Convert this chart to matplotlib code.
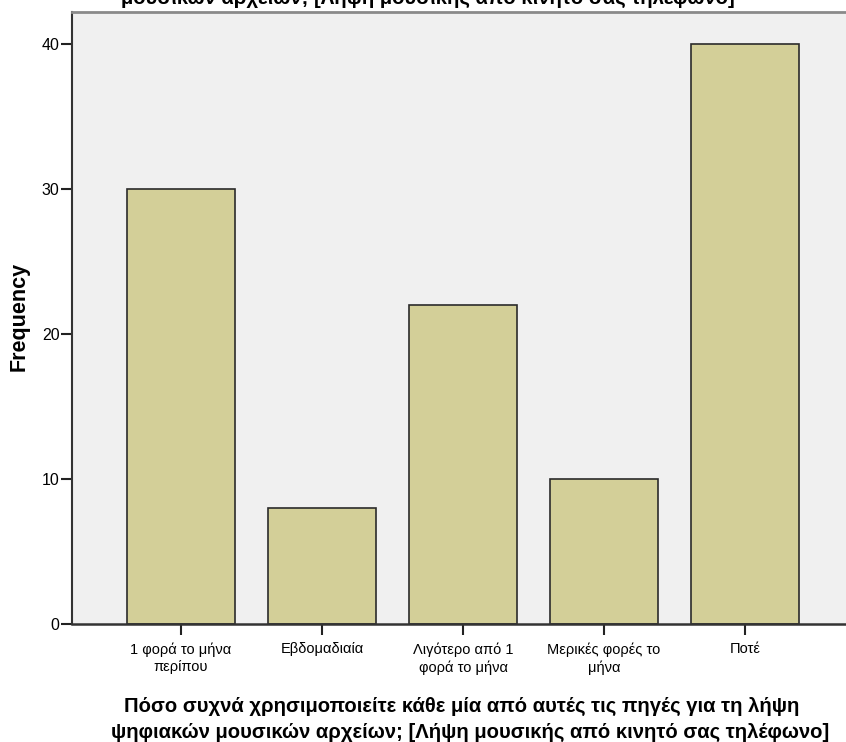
import matplotlib.pyplot as plt
from matplotlib import font_manager
import numpy as np

categories = ["1 φορά το μήνα\nπερίπου", "Εβδομαδιαία", "Λιγότερο από 1\nφορά το μήνα",
              "Μερικές φορές το\nμήνα", "Ποτέ"]
frequency = [30, 8, 22, 10, 40]
yticks = [0, 10, 20, 30, 40]

title_text = "μουσικών αρχείων; [Λήψη μουσικής από κινητό σας τηλέφωνο]"
xlabel_lines = ["Πόσο συχνά χρησιμοποιείτε κάθε μία από αυτές τις πηγές για τη λήψη",
                "ψηφιακών μουσικών αρχείων; [Λήψη μουσικής από κινητό σας τηλέφωνο]"]

installed = {f.name for f in font_manager.fontManager.ttflist}
if 'Liberation Sans Narrow' in installed:
    narrow = ['Liberation Sans Narrow', 'DejaVu Sans']
    tick_size = 11.5
else:
    narrow = ['Liberation Sans', 'DejaVu Sans']
    tick_size = 10.5
bold = ['Liberation Sans', 'DejaVu Sans']

W, H = 846, 742
fig = plt.figure(figsize=(W / 100, H / 100), dpi=100)
ax = fig.add_axes([72 / W, (H - 624) / H, 782 / W, 612 / H])
ax.set_facecolor('#f0f0f0')

x = np.arange(len(categories))
ax.bar(x, frequency, width=0.76, color='#d3cf98', edgecolor='#2b2b2b', linewidth=1.2, zorder=2)

ax.set_xlim(-0.773, len(categories) - 1 + 0.773)
ax.set_ylim(0, 42.2)
ax.set_yticks(yticks)
ax.set_xticks(x)
ax.set_xticklabels(categories, family=narrow, fontsize=tick_size, linespacing=1.3)
ax.set_yticklabels([str(v) for v in yticks], family=narrow, fontsize=tick_size + 1)
ax.tick_params(axis='x', length=8, width=1.5, color='#222222', pad=5)
ax.tick_params(axis='y', length=8, width=1.5, color='#222222', pad=1)

ax.spines['left'].set_color('#333333')
ax.spines['left'].set_linewidth(1.5)
ax.spines['bottom'].set_color('#333333')
ax.spines['bottom'].set_linewidth(1.8)
ax.spines['top'].set_color('#8a8a8a')
ax.spines['top'].set_linewidth(2)
ax.spines['right'].set_visible(False)

fig.text(19 / W, 1 - 316 / H, 'Frequency', rotation=90, ha='center', va='center',
         family=bold, fontweight='bold', fontsize=15.5)

fig.text(462 / W, 1 - 712 / H, xlabel_lines[0], ha='center', va='baseline',
         family=bold, fontweight='bold', fontsize=14.6)
fig.text(470 / W, 1 - 738 / H, xlabel_lines[1], ha='center', va='baseline',
         family=bold, fontweight='bold', fontsize=14.6)

# title is cut off by the top edge of the picture
fig.text(428 / W, 1 - 4 / H, title_text, ha='center', va='baseline',
         family=bold, fontweight='bold', fontsize=14.6)

fig.savefig('out.png', dpi=100)
